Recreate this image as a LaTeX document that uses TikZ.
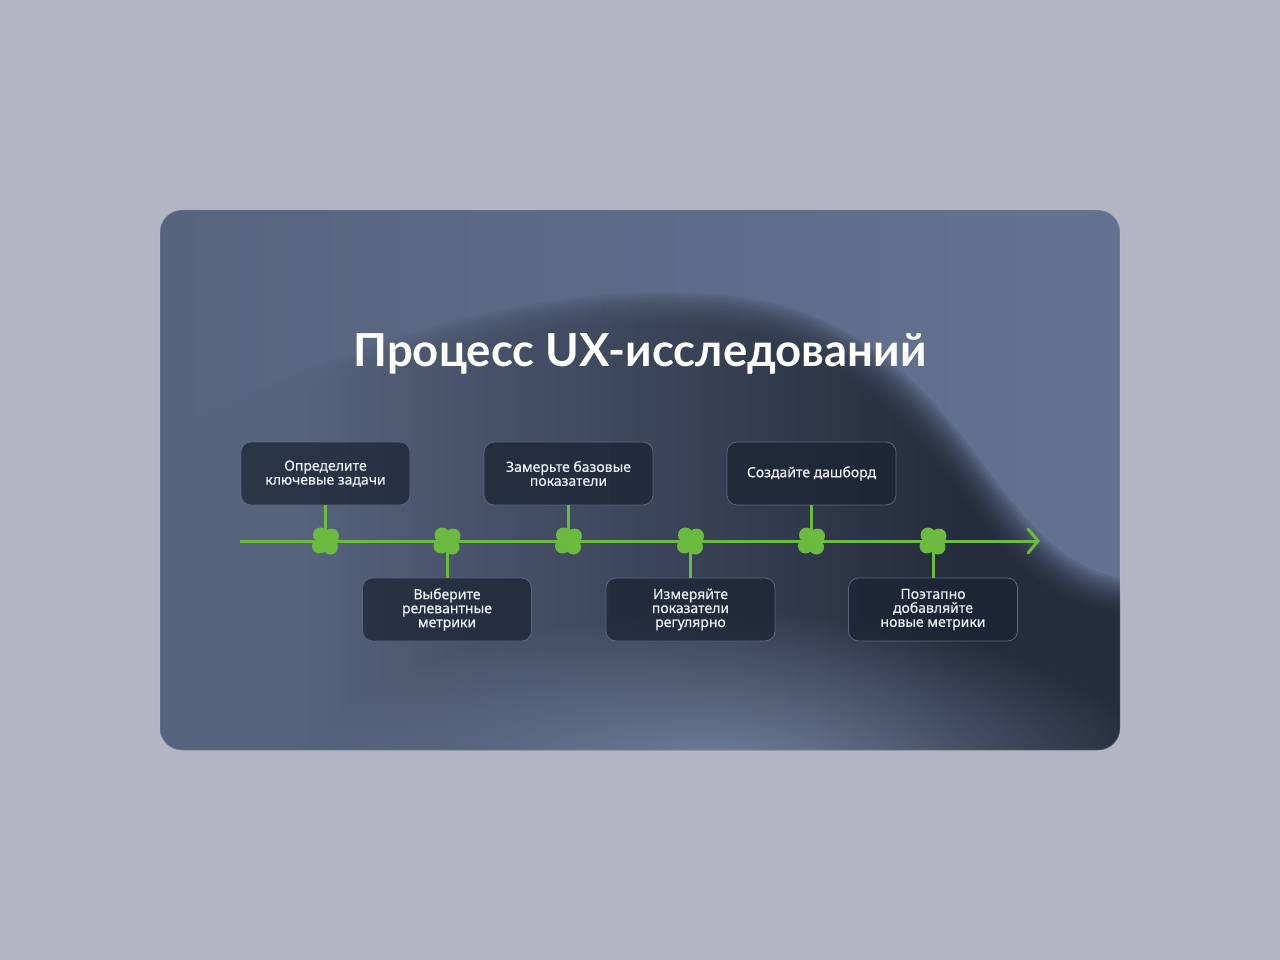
\documentclass[tikz,border=0pt]{standalone}
\usepackage{fontspec}
\setmainfont{Noto Sans}
\newfontfamily\boxfont{Noto Sans}[FakeBold=0.6]
\newfontfamily\titlefont{Lato}
\usetikzlibrary{arrows.meta,fadings}
\definecolor{pagebg}{HTML}{B4B7C3}
\definecolor{cardleft}{HTML}{57647E}
\definecolor{cardright}{HTML}{627290}
\definecolor{hilldark}{HTML}{1F2533}
\definecolor{glowc}{HTML}{8494B3}
\definecolor{boxfill}{HTML}{1A2233}
\definecolor{boxline}{HTML}{5A6680}
\definecolor{tgreen}{HTML}{6ABB40}
\definecolor{txt}{HTML}{ECEEF2}
\pgfdeclarehorizontalshading{hillshade}{100bp}{color(0bp)=(cardleft); color(35bp)=(cardleft); color(66bp)=(hilldark); color(100bp)=(hilldark)}
\tikzfading[name=glowfade, inner color=transparent!0, outer color=transparent!100]
\begin{document}
\begin{tikzpicture}[x=1pt,y=-1pt,
  stepbox/.style={draw=boxline, line width=0.8pt, fill=boxfill, fill opacity=0.72, text opacity=1,
    rounded corners=10pt, minimum width=169pt, minimum height=63pt, align=center, inner sep=0pt,
    text=txt, font=\boxfont\fontsize{14}{14}\selectfont},
  titlestyle/.style={text=white, font=\titlefont\bfseries\fontsize{45.5}{50}\selectfont, inner sep=0pt},
  gline/.style={draw=tgreen, line width=3pt},
  blob/.pic={\fill[tgreen] (-5,-6) circle (7.5) (6,-5) circle (7.5) (-6,5) circle (7.5) (5,6) circle (7.5) (0,0) circle (9);}
]
\useasboundingbox (0,0) rectangle (1280,960);
\fill[pagebg] (0,0) rectangle (1280,960);
\begin{scope}
  \clip[rounded corners=22pt] (160,210) rectangle (1120,750);
  \shade[left color=cardleft, right color=cardright] (160,210) rectangle (1120,750);
  \foreach \k in {0,...,13} {
  \begin{scope}[shift={(-1.6*\k,2.4*\k)}]
  \shade[shading=hillshade, fill opacity=0.13] (100,820) -- (100,470)
     .. controls (400,300) and (600,285) .. (720,295)
     .. controls (850,305) and (920,380) .. (980,460)
     .. controls (1040,540) and (1070,578) .. (1160,584) -- (1160,820) -- cycle;
  \end{scope}
  }
  \fill[glowc, path fading=glowfade, fill opacity=0.8] (730,780) ellipse (430 and 170);
\end{scope}
\draw[white, opacity=0.15, line width=0.8pt, rounded corners=22pt] (160,210) rectangle (1120,750);

\node[titlestyle, anchor=base] (title) at (640,366) {Процесс UX-исследований};

\node[stepbox] (b1) at (325.5,473.5) {Определите\\ключевые задачи};
\node[stepbox] (b2) at (447,609.5) {Выберите\\релевантные\\метрики};
\node[stepbox] (b3) at (568.5,473.5) {Замерьте базовые\\показатели};
\node[stepbox] (b4) at (690.5,609.5) {Измеряйте\\показатели\\регулярно};
\node[stepbox] (b5) at (811.5,473.5) {Создайте дашборд};
\node[stepbox] (b6) at (933,609.5) {Поэтапно\\добавляйте\\новые метрики};

\coordinate (start) at (240,541);
\coordinate (tip) at (1040,541);
\coordinate (m1) at (325.5,541);
\coordinate (m2) at (447,541);
\coordinate (m3) at (568.5,541);
\coordinate (m4) at (690.5,541);
\coordinate (m5) at (811.5,541);
\coordinate (m6) at (933,541);

\draw[gline, -{Straight Barb[length=10pt,width=24pt,line cap=round]}] (start) -- (tip);
\draw[gline] (b1.south) -- (m1);
\draw[gline] (m2) -- (b2.north);
\draw[gline] (b3.south) -- (m3);
\draw[gline] (m4) -- (b4.north);
\draw[gline] (b5.south) -- (m5);
\draw[gline] (m6) -- (b6.north);
\foreach \m in {m1,m2,m3,m4,m5,m6} \pic at (\m) {blob};
\end{tikzpicture}
\end{document}
